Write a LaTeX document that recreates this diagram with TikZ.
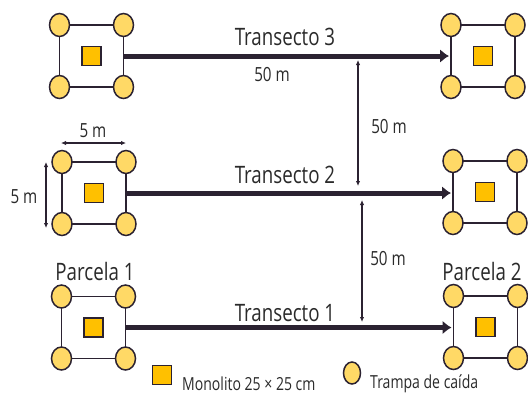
\documentclass[tikz,border=0pt]{standalone}
\usepackage{fontspec}
\setmainfont[FakeStretch=0.78]{Open Sans}
\usetikzlibrary{arrows.meta,shapes.geometric}

\definecolor{amarillo}{HTML}{FFD966}
\definecolor{dorado}{HTML}{FFC000}
\definecolor{borde}{HTML}{2B2231}
\definecolor{texto}{HTML}{2A2A2A}

\tikzset{
  parcela/.style={draw=borde, line width=1.8pt, minimum width=64pt, minimum height=62pt, inner sep=0pt, outer sep=0pt},
  trampa/.style={ellipse, draw=borde, fill=amarillo, line width=1.5pt, minimum width=20pt, minimum height=23pt, inner sep=0pt},
  monolito/.style={draw=borde, fill=dorado, line width=1.5pt, minimum size=19pt, inner sep=0pt},
  transecto/.style={draw=borde, line width=5pt, -{Latex[length=9pt,width=14pt]}, shorten >=2pt},
  cota/.style={draw=borde, line width=1.1pt, {Latex[length=5pt,width=4.5pt]}-{Latex[length=5pt,width=4.5pt]}},
  etiqueta/.style={font=\fontsize{24}{26}\selectfont, text=texto, inner sep=0pt},
  medida/.style={font=\fontsize{19.5}{21}\selectfont, text=texto, inner sep=0pt}
}

% parcela de 5 m x 5 m: marco, trampas en las esquinas y monolito al centro
\newcommand{\parcela}[3]{%
  \node[parcela] (#1) at (#2,#3) {};
  \node[trampa] (#1-nw) at (#1.north west) {};
  \node[trampa] (#1-ne) at (#1.north east) {};
  \node[trampa] (#1-sw) at (#1.south west) {};
  \node[trampa] (#1-se) at (#1.south east) {};
  \node[monolito] (#1-m) at (#1.center) {};
}

\begin{document}
\begin{tikzpicture}[x=1pt, y=-1pt]
        \useasboundingbox (0,0) rectangle (528,394);
        % \draw[help lines, gray!50, very thin] (0,0) grid[step=20] (528,394);

        \parcela{p3l}{91.5}{56}
        \parcela{p3r}{483}{56}
        \parcela{p2l}{94}{193}
        \parcela{p2r}{485}{192}
        \parcela{p1l}{93.5}{327.5}
        \parcela{p1r}{485.5}{327}

        % transectos
        \draw[transecto] (p3l.east) -- (p3l.east -| p3r.west);
        \node[etiqueta] (t3) at (285,37) {Transecto 3};
        \node[medida] (d3) at (272,75) {50 m};

        \draw[transecto] (p2l.east) -- (p2l.east -| p2r.west);
        \node[etiqueta] (t2) at (285,175) {Transecto 2};

        \draw[transecto] (p1l.east) -- (p1l.east -| p1r.west);
        \node[etiqueta] (t1) at (285,313) {Transecto 1};

        % distancias entre transectos
        \coordinate (v3) at (358,60);
        \coordinate (v2) at (358,186);
        \draw[cota] (v3) -- (v2);
        \node[medida] (d32) at (389,127) {50 m};

        \coordinate (w2) at (362,200);
        \coordinate (w1) at (362,322);
        \draw[cota] (w2) -- (w1);
        \node[medida] (d21) at (388,259) {50 m};

        % medidas de la parcela
        \coordinate (h1) at (61,143);
        \coordinate (h2) at (126,143);
        \draw[cota] (h1) -- (h2);
        \node[medida] (lh) at (93,131) {5 m};

        \coordinate (k1) at (46,162);
        \coordinate (k2) at (46,228);
        \draw[cota] (k1) -- (k2);
        \node[medida] (lk) at (24,197) {5 m};

        \node[etiqueta] (n1) at (95,271) {Parcela 1};
        \node[etiqueta] (n2) at (482,271) {Parcela 2};

        % leyenda
        \node[monolito] (lm) at (162,375) {};
        \node[medida, font=\fontsize{18}{20}\selectfont, anchor=west] (tm) at (182,384) {Monolito 25 × 25 cm};
        \node[trampa, minimum width=17pt, minimum height=22pt] (lt) at (352,373) {};
        \node[medida, font=\fontsize{18}{20}\selectfont, anchor=west] (tt) at (370,384) {Trampa de caída};
      \end{tikzpicture}
\end{document}
